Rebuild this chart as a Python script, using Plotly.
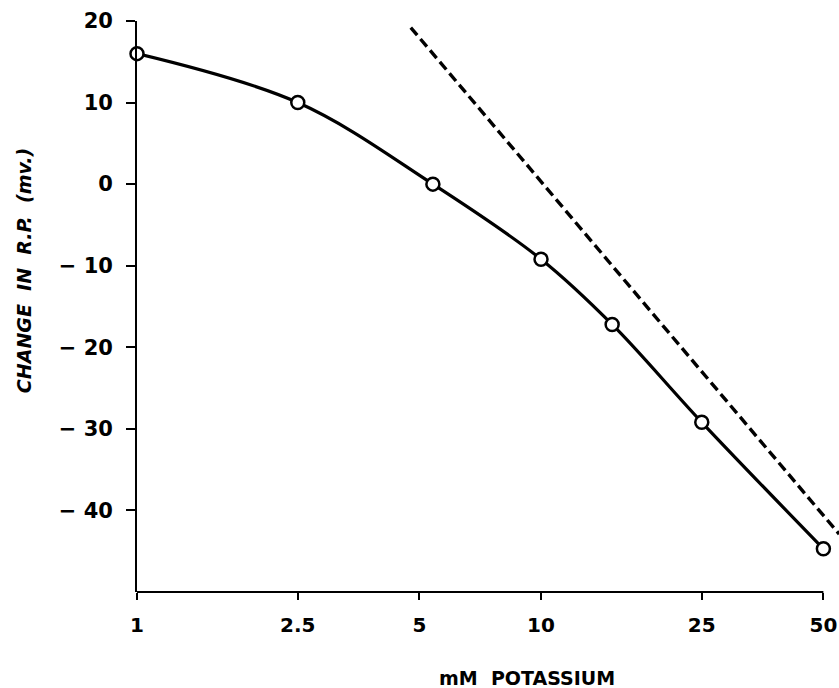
import plotly.graph_objects as go

# Data
potassium_mM = [1, 2.5, 5.4, 10, 15, 25, 50]
change_rp_mv = [16, 10, 0, -9.2, -17.2, -29.2, -44.7]

# Dashed reference (Nernst-like) line endpoints
dash_x = [4.76, 54.7]
dash_y = [19.2, -42.9]

x_tickvals = [1, 2.5, 5, 10, 25, 50]
x_ticktext = ["1", "2.5", "5", "10", "25", "50"]
y_tickvals = [-40, -30, -20, -10, 0, 10, 20]
y_ticktext = [("\u2212\u00a0" + str(abs(v))) if v < 0 else str(v) for v in y_tickvals]

FONT = "DejaVu Sans"

fig = go.Figure()

fig.add_trace(go.Scatter(
    x=dash_x, y=dash_y, mode="lines",
    line=dict(color="black", width=3.4, dash="10px,5px"),
    hoverinfo="skip", showlegend=False,
))

fig.add_trace(go.Scatter(
    x=potassium_mM, y=change_rp_mv, mode="lines+markers",
    line=dict(color="black", width=3.2, shape="spline", smoothing=1.0),
    marker=dict(symbol="circle", size=13, color="white",
                line=dict(color="black", width=2.5)),
    cliponaxis=False, showlegend=False,
))

fig.update_layout(
    width=839, height=688,
    margin=dict(l=137, r=0, t=21, b=96, pad=0),
    paper_bgcolor="white", plot_bgcolor="white",
    font=dict(family=FONT, color="black"),
    showlegend=False,
    xaxis=dict(
        type="log", range=[0, 1.7376],
        tickmode="array", tickvals=x_tickvals, ticktext=x_ticktext,
        ticks="outside", ticklen=7, tickwidth=1.6, tickcolor="black",
        showline=False, showgrid=False, zeroline=False,
        tickfont=dict(family=FONT, size=20, weight="bold", color="black"),
        ticklabelstandoff=8,
    ),
    yaxis=dict(
        range=[-50, 20],
        tickmode="array", tickvals=y_tickvals, ticktext=y_ticktext,
        ticks="outside", ticklen=9, tickwidth=1.6, tickcolor="black",
        showline=True, linewidth=1.8, linecolor="black",
        showgrid=False, zeroline=False,
        tickfont=dict(family=FONT, size=21, weight="bold", color="black"),
        ticklabelstandoff=9,
    ),
    shapes=[dict(
        type="line", xref="x", yref="paper",
        x0=x_tickvals[0], x1=x_tickvals[-1], y0=0, y1=0,
        line=dict(color="black", width=1.8), layer="below",
    )],
    annotations=[
        dict(text="mM\u00a0\u00a0POTASSIUM", xref="paper", yref="paper",
             x=0.5556, y=-0.1505, xanchor="center", yanchor="middle",
             showarrow=False,
             font=dict(family=FONT, size=19, weight="bold", color="black")),
        dict(text="CHANGE\u00a0\u00a0IN\u00a0\u00a0R.P.\u00a0\u00a0(mv.)",
             xref="paper", yref="paper",
             x=-0.161, y=0.5636, xanchor="center", yanchor="middle",
             textangle=-90, showarrow=False,
             font=dict(family=FONT, size=19, weight="bold", style="italic",
                       color="black")),
    ],
)

fig.write_html(
    "out.html",
    config={"displayModeBar": False},
    post_script="document.body.style.margin='0';document.body.style.overflow='hidden';",
)
